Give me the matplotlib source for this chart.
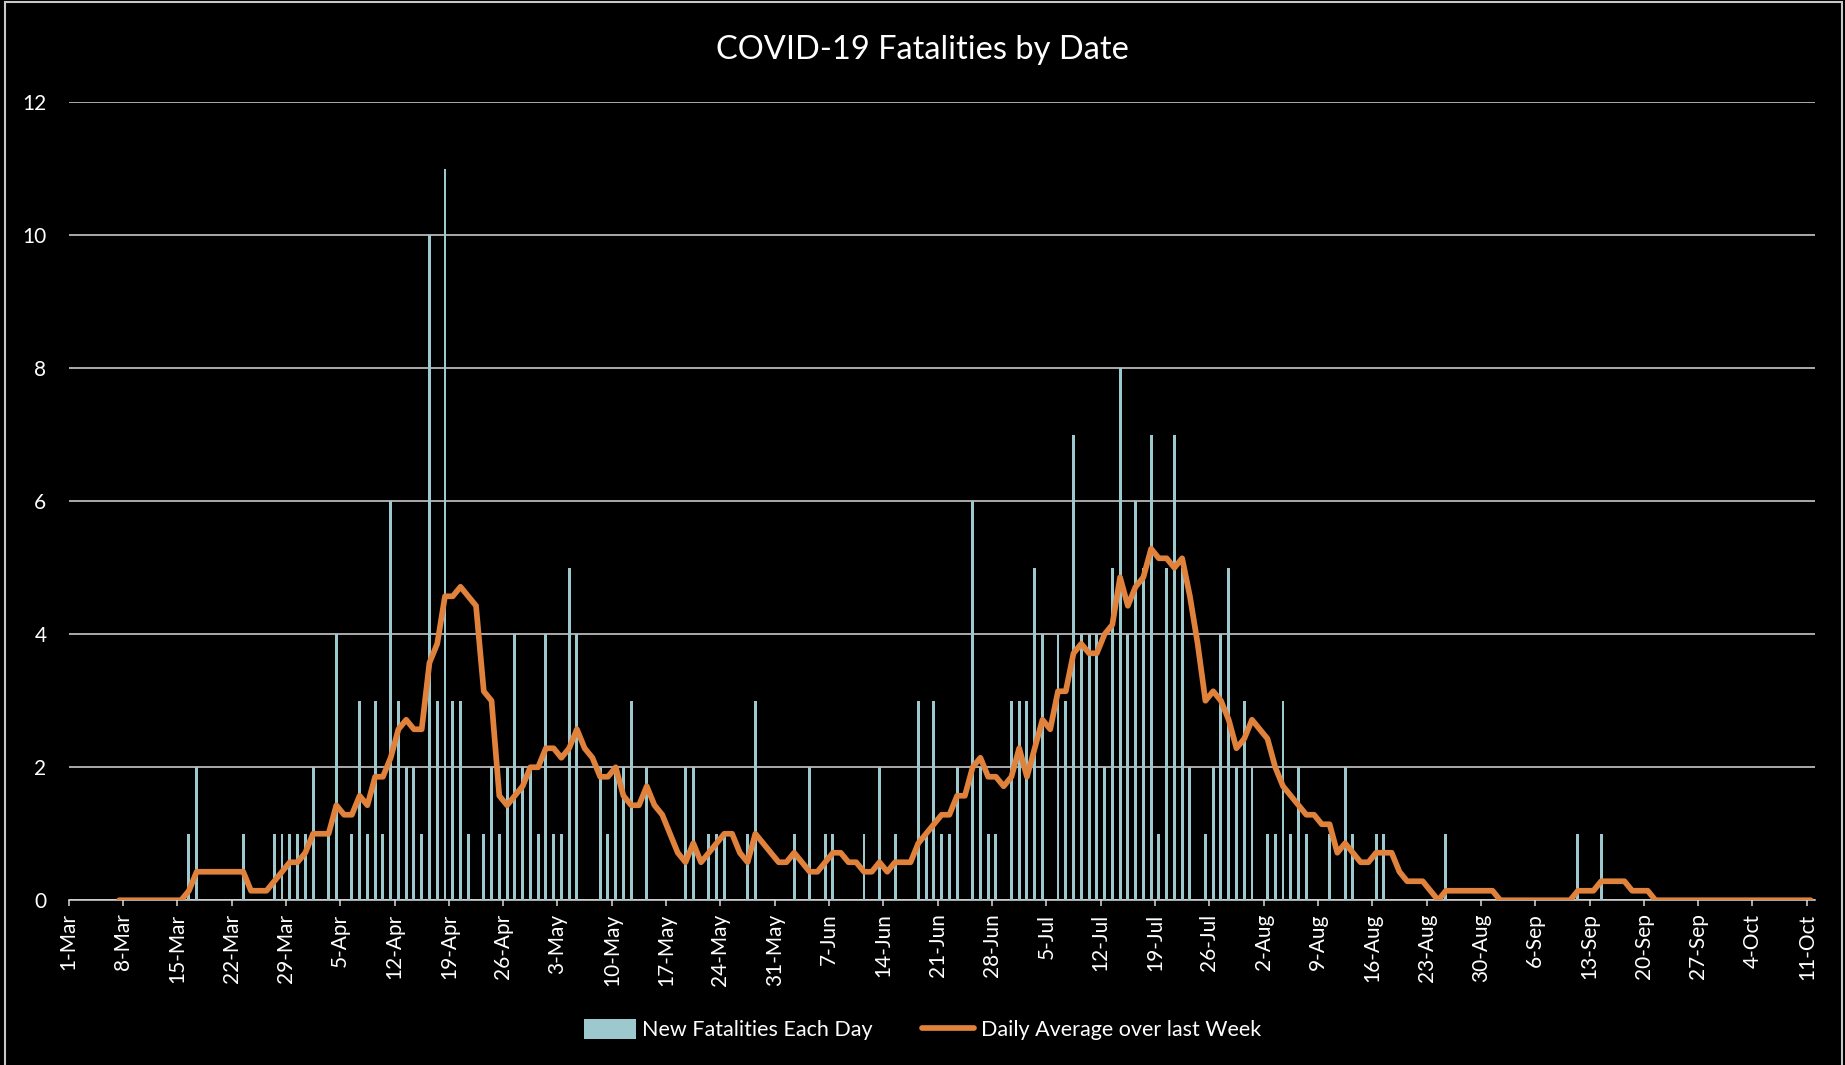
import numpy as np
import pandas as pd
import matplotlib
matplotlib.use('Agg')
import matplotlib.pyplot as plt
from matplotlib.patches import Rectangle

plt.rcParams['font.family'] = ['Lato', 'DejaVu Sans']

# ── data: new fatalities per day, 1-Mar .. 11-Oct ──────────────
mar = [0, 0, 0, 0, 0, 0, 0, 0, 0, 0, 0, 0, 0, 0, 0,
       1, 2, 0, 0, 0, 0, 0, 1, 0, 0, 0, 1, 1, 1, 1, 1]
apr = [2, 0, 1, 4, 0, 1, 3, 1, 3, 1, 6, 3, 2, 2, 1,
       10, 3, 11, 3, 3, 1, 0, 1, 2, 1, 2, 4, 2, 2, 1]
may = [4, 1, 1, 5, 4, 0, 0, 2, 1, 2, 2, 3, 0, 2, 0, 0,
       0, 0, 2, 2, 0, 1, 1, 1, 0, 0, 1, 3, 0, 0, 0]
jun = [0, 1, 0, 2, 0, 1, 1, 0, 0, 0, 1, 0, 2, 0, 1,
       0, 0, 3, 1, 3, 1, 1, 2, 0, 6, 2, 1, 1, 0, 3]
jul = [3, 3, 5, 4, 0, 4, 3, 7, 4, 4, 4, 2, 5, 8, 4, 6,
       5, 7, 1, 5, 7, 5, 2, 0, 1, 2, 4, 5, 2, 3, 2]
aug = [0, 1, 1, 3, 1, 2, 1, 0, 0, 1, 0, 2, 1, 0, 0, 1,
       1, 0, 0, 0, 0, 0, 0, 0, 1, 0, 0, 0, 0, 0, 0]
sep = [0, 0, 0, 0, 0, 0, 0, 0, 0, 0, 1, 0, 0, 1, 0,
       0, 0, 0, 0, 0, 0, 0, 0, 0, 0, 0, 0, 0, 0, 0]
oct_ = [0, 0, 0, 0, 0, 0, 0, 0, 0, 0, 0]

tick_labels = ['1-Mar', '8-Mar', '15-Mar', '22-Mar', '29-Mar', '5-Apr', '12-Apr',
               '19-Apr', '26-Apr', '3-May', '10-May', '17-May', '24-May', '31-May',
               '7-Jun', '14-Jun', '21-Jun', '28-Jun', '5-Jul', '12-Jul', '19-Jul',
               '26-Jul', '2-Aug', '9-Aug', '16-Aug', '23-Aug', '30-Aug', '6-Sep',
               '13-Sep', '20-Sep', '27-Sep', '4-Oct', '11-Oct']

daily = pd.Series(mar + apr + may + jun + jul + aug + sep + oct_, dtype=float)
# the orange series is the trailing 7-day mean of the bars
weekly_avg = daily.rolling(7).mean()
n = len(daily)
x = np.arange(n)

BG = 'black'
BAR = '#9CC8CE'
LINE = '#E0823C'
GRID = '#D9D9D9'

fig = plt.figure(figsize=(18.45, 10.65), dpi=100)
fig.patch.set_facecolor(BG)
ax = fig.add_axes([0.0372, 0.1547, 0.9463, 0.7492])
ax.set_facecolor(BG)

bars = ax.bar(x, daily, width=0.38, color=BAR, zorder=2, label='New Fatalities Each Day')
line, = ax.plot(x, weekly_avg, color=LINE, linewidth=4.1, solid_capstyle='round',
                solid_joinstyle='round', zorder=3, label='Daily Average over last Week')

ax.set_xlim(-0.5, n - 0.5)
ax.set_ylim(0, 12)
ax.set_yticks(range(0, 13, 2))
ax.yaxis.grid(True, color=GRID, linewidth=1.1, zorder=0)
ax.set_axisbelow(True)

tick_pos = np.arange(0, n, 7) - 0.5
ax.set_xticks(tick_pos)
ax.set_xticklabels(tick_labels, rotation=90, fontsize=15, color='white')
ax.tick_params(axis='x', direction='out', length=4.5, width=1.1, color=GRID, pad=5)
ax.tick_params(axis='y', length=0, labelsize=15, labelcolor='white', pad=16)

for s in ['top', 'right', 'left']:
    ax.spines[s].set_visible(False)
ax.spines['bottom'].set_color(GRID)
ax.spines['bottom'].set_linewidth(1.1)
ax.spines['bottom'].set_zorder(1)

fig.text(0.5, 0.953, 'COVID-19 Fatalities by Date', ha='center', va='center',
         fontsize=23.5, color='white')

fig.legend(handles=[bars, line], loc='center', bbox_to_anchor=(0.5, 0.033), ncol=2,
           frameon=False, fontsize=15.5, labelcolor='white', handlelength=2.4,
           handleheight=1.0, handletextpad=0.3, columnspacing=2.3)

# thin light border around the chart area
fig.patches.append(Rectangle((0.0027, -0.02), 0.9955, 1.018, transform=fig.transFigure,
                             fill=False, edgecolor='#C8C8C8', linewidth=1.5))

fig.savefig('out.png', dpi=100, facecolor=BG)
